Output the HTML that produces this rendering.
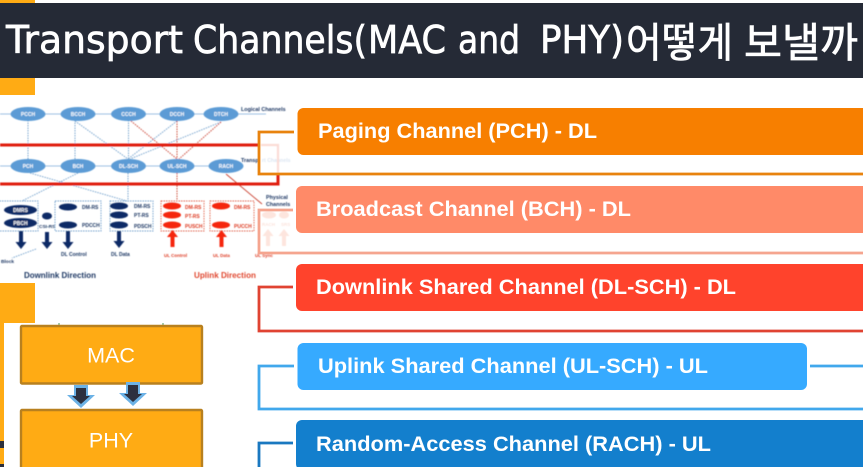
<!DOCTYPE html>
<html><head><meta charset="utf-8"><style>
html,body{margin:0;padding:0;background:#fff;width:863px;height:467px;overflow:hidden}
svg{display:block}
text{font-family:"Liberation Sans","Noto Sans CJK KR",sans-serif}
</style></head><body>
<svg width="863" height="467" viewBox="0 0 863 467" xmlns="http://www.w3.org/2000/svg">
<defs>
<filter id="b" x="-5%" y="-5%" width="110%" height="110%"><feGaussianBlur stdDeviation="0.4"/></filter>
<filter id="s" x="-5%" y="-5%" width="110%" height="110%"><feGaussianBlur stdDeviation="0.3"/></filter>
</defs>
<rect width="863" height="467" fill="#fff"/>
<!-- orange background -->
<rect x="0" y="0" width="35" height="4" fill="#ffab14"/>
<rect x="0" y="78" width="35" height="17" fill="#ffab14"/>
<rect x="0" y="283" width="35" height="40" fill="#ffab14"/>
<rect x="0" y="323" width="4" height="144" fill="#ffab14"/>
<rect x="0" y="441" width="4" height="7" fill="#2b2f3c"/>
<rect x="0" y="464" width="4" height="3" fill="#2b2f3c"/>
<!-- header -->
<rect x="0" y="3" width="863" height="75" fill="#252a36"/>
<g fill="#fff" stroke="#fff" stroke-width=".7" filter="url(#s)" style="font-family:'DejaVu Sans','Noto Sans CJK KR',sans-serif" font-size="38.500">
<text x="6" y="53" textLength="177" lengthAdjust="spacingAndGlyphs" style="font-family:'DejaVu Sans',sans-serif">Transport</text>
<text x="193" y="53" textLength="174" lengthAdjust="spacingAndGlyphs" style="font-family:'DejaVu Sans',sans-serif">Channels(</text>
<text x="368" y="53" textLength="78" lengthAdjust="spacingAndGlyphs" style="font-family:'DejaVu Sans',sans-serif">MAC</text>
<text x="458" y="53" textLength="62" lengthAdjust="spacingAndGlyphs" style="font-family:'DejaVu Sans',sans-serif">and</text>
<text x="540" y="53" textLength="84" lengthAdjust="spacingAndGlyphs" style="font-family:'DejaVu Sans',sans-serif">PHY)</text>
<text x="626" y="57" font-size="41" textLength="107" lengthAdjust="spacingAndGlyphs" style="font-family:'Noto Sans CJK KR',sans-serif">어떻게</text>
<text x="744" y="57" font-size="41" textLength="114" lengthAdjust="spacingAndGlyphs" style="font-family:'Noto Sans CJK KR',sans-serif">보낼까</text>
</g>

<!-- channel diagram -->
<g filter="url(#b)">
<g stroke="#9dc1e2" stroke-width="1.100" fill="none">
<line x1="0" y1="114" x2="266" y2="114"/>
<line x1="0" y1="166" x2="240" y2="166"/>
</g>
<g stroke="#6f9fcc" stroke-width=".9" stroke-dasharray="1.500 1" fill="none">
<line x1="28" y1="120" x2="28" y2="160"/>
<line x1="75" y1="120" x2="75" y2="160"/>
<line x1="75" y1="121" x2="128" y2="159"/>
<line x1="128.500" y1="120" x2="128.500" y2="160"/>
<line x1="177" y1="121" x2="128" y2="159"/>
<line x1="221" y1="122" x2="130" y2="159"/>
<line x1="30" y1="173" x2="127" y2="201"/>
<line x1="78" y1="173" x2="22" y2="201"/>
<line x1="128" y1="173" x2="128" y2="201"/>
<line x1="36" y1="249" x2="12" y2="258"/>
</g>
<g stroke="#c93f2f" stroke-width=".9" stroke-dasharray="1.500 1" fill="none">
<line x1="131" y1="121" x2="177" y2="159"/>
<line x1="177" y1="121" x2="177" y2="159"/>
<line x1="221" y1="122" x2="179" y2="159"/>
<line x1="177" y1="173" x2="177" y2="201"/>
</g>
<line x1="226" y1="174" x2="262" y2="204" stroke="#c93f2f" stroke-width=".9"/>
<g fill="#5b9bd5">
<ellipse cx="28" cy="114" rx="17.500" ry="7"/><ellipse cx="78" cy="114" rx="17.500" ry="7"/><ellipse cx="128.500" cy="114" rx="17.500" ry="7"/><ellipse cx="177" cy="114" rx="17.500" ry="7"/><ellipse cx="221" cy="114" rx="17.500" ry="7"/>
<ellipse cx="28" cy="166" rx="17.500" ry="7"/><ellipse cx="78" cy="166" rx="17.500" ry="7"/><ellipse cx="128.500" cy="166" rx="17.500" ry="7"/><ellipse cx="177" cy="166" rx="17.500" ry="7"/><ellipse cx="226" cy="166" rx="17.500" ry="7"/>
</g>
<g fill="#fff" font-size="5" font-weight="bold" text-anchor="middle">
<text x="28" y="116">PCCH</text><text x="78" y="116">BCCH</text><text x="128.500" y="116">CCCH</text><text x="177" y="116">DCCH</text><text x="221" y="116">DTCH</text>
<text x="28" y="168">PCH</text><text x="78" y="168">BCH</text><text x="128.500" y="168">DL-SCH</text><text x="177" y="168">UL-SCH</text><text x="226" y="168">RACH</text>
</g>
<g fill="#1f3864" font-size="5.400" font-weight="bold">
<text x="241" y="111">Logical Channels</text>
<text x="241" y="162">Transp</text>
<text x="266" y="199">Physical</text><text x="266" y="206">Channels</text>
<text x="1" y="263" font-size="4.800">Block</text>
<text x="24" y="278" font-size="8.400" textLength="72" lengthAdjust="spacingAndGlyphs">Downlink Direction</text>
<text x="61" y="256" font-size="5">DL Control</text>
<text x="111" y="256" font-size="5">DL Data</text>
<text x="82" y="209" font-size="5">DM-RS</text><text x="82" y="227" font-size="5">PDCCH</text>
<text x="134" y="208" font-size="5">DM-RS</text><text x="134" y="217" font-size="5">PT-RS</text><text x="134" y="228" font-size="5">PDSCH</text>
<text x="39" y="228" font-size="4.800">CSI-RS</text>
</g>
<text x="262" y="162" fill="#dce6f2" font-size="5.200" font-weight="bold">rt Channels</text>
<g fill="#dd3a22" font-size="5" font-weight="bold">
<text x="185" y="209">DM-RS</text><text x="185" y="218">PT-RS</text><text x="185" y="228">PUSCH</text>
<text x="234" y="209">DM-RS</text><text x="234" y="228">PUCCH</text>
<text x="164" y="257" font-size="4.500">UL Control</text><text x="213" y="257" font-size="4.500">UL Data</text>
<text x="255" y="257" font-size="4.500">UL Sync</text>
<text x="194" y="278" font-size="8.400" textLength="62" lengthAdjust="spacingAndGlyphs" fill="#e0472f">Uplink Direction</text>
</g>
<g fill="none" stroke="#6f9fcc" stroke-width=".9" stroke-dasharray="1.500 1">
<rect x="-3" y="201" width="41" height="30"/><rect x="55" y="201" width="46" height="30"/><rect x="110" y="201" width="43" height="30"/>
</g>
<g fill="none" stroke="#e0604c" stroke-width=".9" stroke-dasharray="1.500 1">
<rect x="161" y="201" width="43" height="30"/><rect x="210" y="201" width="44" height="30"/>
</g>
<g fill="#0b2a66">
<ellipse cx="20.500" cy="210" rx="16.500" ry="5"/><ellipse cx="20.500" cy="223" rx="16.500" ry="5"/><ellipse cx="47" cy="216" rx="5" ry="3.500"/>
<ellipse cx="68" cy="207" rx="9" ry="3.500"/><ellipse cx="68" cy="225" rx="9" ry="3.500"/>
<ellipse cx="119" cy="206" rx="9" ry="3.500"/><ellipse cx="119" cy="215" rx="9" ry="3.500"/><ellipse cx="119" cy="225" rx="9" ry="3.500"/>
<path d="M19 231h4v11h3.500l-5.500 7-5.500-7h3.500zM45 232h4v10h3.500l-5.500 7-5.500-7h3.500zM66 231h4v11h3.500l-5.500 7-5.500-7h3.500zM117 231h4v10h3.500l-5.500 7-5.500-7h3.500z"/>
</g>
<g fill="#fff" font-size="5" font-weight="bold" text-anchor="middle"><text x="20.500" y="212">DMRS</text><text x="20.500" y="225">PBCH</text></g>
<g fill="#f5280a">
<ellipse cx="172" cy="206" rx="9" ry="3.500"/><ellipse cx="172" cy="215" rx="9" ry="3.500"/><ellipse cx="172" cy="225" rx="9" ry="3.500"/>
<ellipse cx="221" cy="206" rx="9" ry="3.500"/><ellipse cx="221" cy="225" rx="9" ry="3.500"/>
<path d="M170.500 247v-10h-3.500l5.500-7 5.500 7h-3.500v10zM219.500 247v-10h-3.500l5.500-7 5.500 7h-3.500v10z"/>
</g>
<!-- red transport box -->
<path d="M0 145H259" stroke="#e01f10" stroke-width="3" fill="none"/>
<path d="M0 184H278V174" stroke="#e01f10" stroke-width="3" fill="none"/>
<path d="M261 145H278V173" stroke="#fbdcd6" stroke-width="2.200" fill="none"/>
<!-- faded rach area -->
<ellipse cx="269" cy="215" rx="7" ry="3.500" fill="#fde5de"/><ellipse cx="284" cy="215" rx="5" ry="3.500" fill="#fde5de"/>
<path d="M266 246v-10h-3.500l5.500-7 5.500 7h-3.500v10zM282 246v-10h-3.500l5.500-7 5.500 7h-3.500v10z" fill="#fde5de"/>
<text x="262" y="226" fill="#fbe3dc" font-size="4.500" font-weight="bold">RACH</text>
<text x="281" y="226" fill="#fbe3dc" font-size="4.500" font-weight="bold">SRS</text>
</g>

<!-- connector brackets -->
<g fill="none" stroke-width="2.800">
<path d="M294 132H259V174H863" stroke="#e8830e"/>
<path d="M293 210H259V253H863" stroke="#f5a58f"/>
<path d="M293 287H259V331H863" stroke="#e04332"/>
<path d="M294 366H259V409H863" stroke="#41a8ec"/>
<path d="M810 366H863" stroke="#41a8ec"/>
<path d="M293 443H259V468" stroke="#1a78c0"/>
</g>

<!-- channel boxes -->
<rect x="297.500" y="108" width="580" height="47" rx="6" fill="#f77f00"/>
<rect x="296" y="186" width="580" height="47" rx="6" fill="#ff8a68"/>
<rect x="296" y="264" width="580" height="47" rx="6" fill="#ff432c"/>
<rect x="297.500" y="343" width="509.500" height="47" rx="6" fill="#36aaff"/>
<rect x="296" y="420" width="580" height="50" rx="6" fill="#137fcd"/>
<g fill="#fff" font-size="21.500" font-weight="bold" filter="url(#s)">
<text x="318" y="138" textLength="279" lengthAdjust="spacingAndGlyphs">Paging Channel (PCH) - DL</text>
<text x="316" y="216" textLength="315" lengthAdjust="spacingAndGlyphs">Broadcast Channel (BCH) - DL</text>
<text x="316" y="294" textLength="420" lengthAdjust="spacingAndGlyphs">Downlink Shared Channel (DL-SCH) - DL</text>
<text x="318" y="373" textLength="390" lengthAdjust="spacingAndGlyphs">Uplink Shared Channel (UL-SCH) - UL</text>
<text x="316" y="451" textLength="395" lengthAdjust="spacingAndGlyphs">Random-Access Channel (RACH) - UL</text>
</g>

<!-- MAC / PHY -->
<line x1="59" y1="323" x2="59" y2="326" stroke="#4c9a58" stroke-width="1"/>
<line x1="163" y1="323" x2="163" y2="326" stroke="#4c9a58" stroke-width="1"/>
<rect x="21" y="326" width="181" height="57.500" rx="1" fill="#ffab14" stroke="#b8801f" stroke-width="2.400"/>
<rect x="21" y="410" width="181" height="60" rx="1" fill="#ffab14" stroke="#b8801f" stroke-width="2.400"/>
<text x="111" y="362.500" font-size="21.500" fill="#fff" text-anchor="middle">MAC</text>
<text x="111" y="447.500" font-size="21.500" fill="#fff" text-anchor="middle">PHY</text>
<path d="M74 385h14v10h7l-14 13-14-13h7z" fill="#6cb2e6"/>
<path d="M126 382h14v11h7l-14 13-14-13h7z" fill="#6cb2e6"/>
<path d="M76 388h10v8h4l-9 8-9-8h4z" fill="#2c3040"/>
<path d="M128 385h10v9h4l-9 8-9-8h4z" fill="#2c3040"/>
</svg>
</body></html>
